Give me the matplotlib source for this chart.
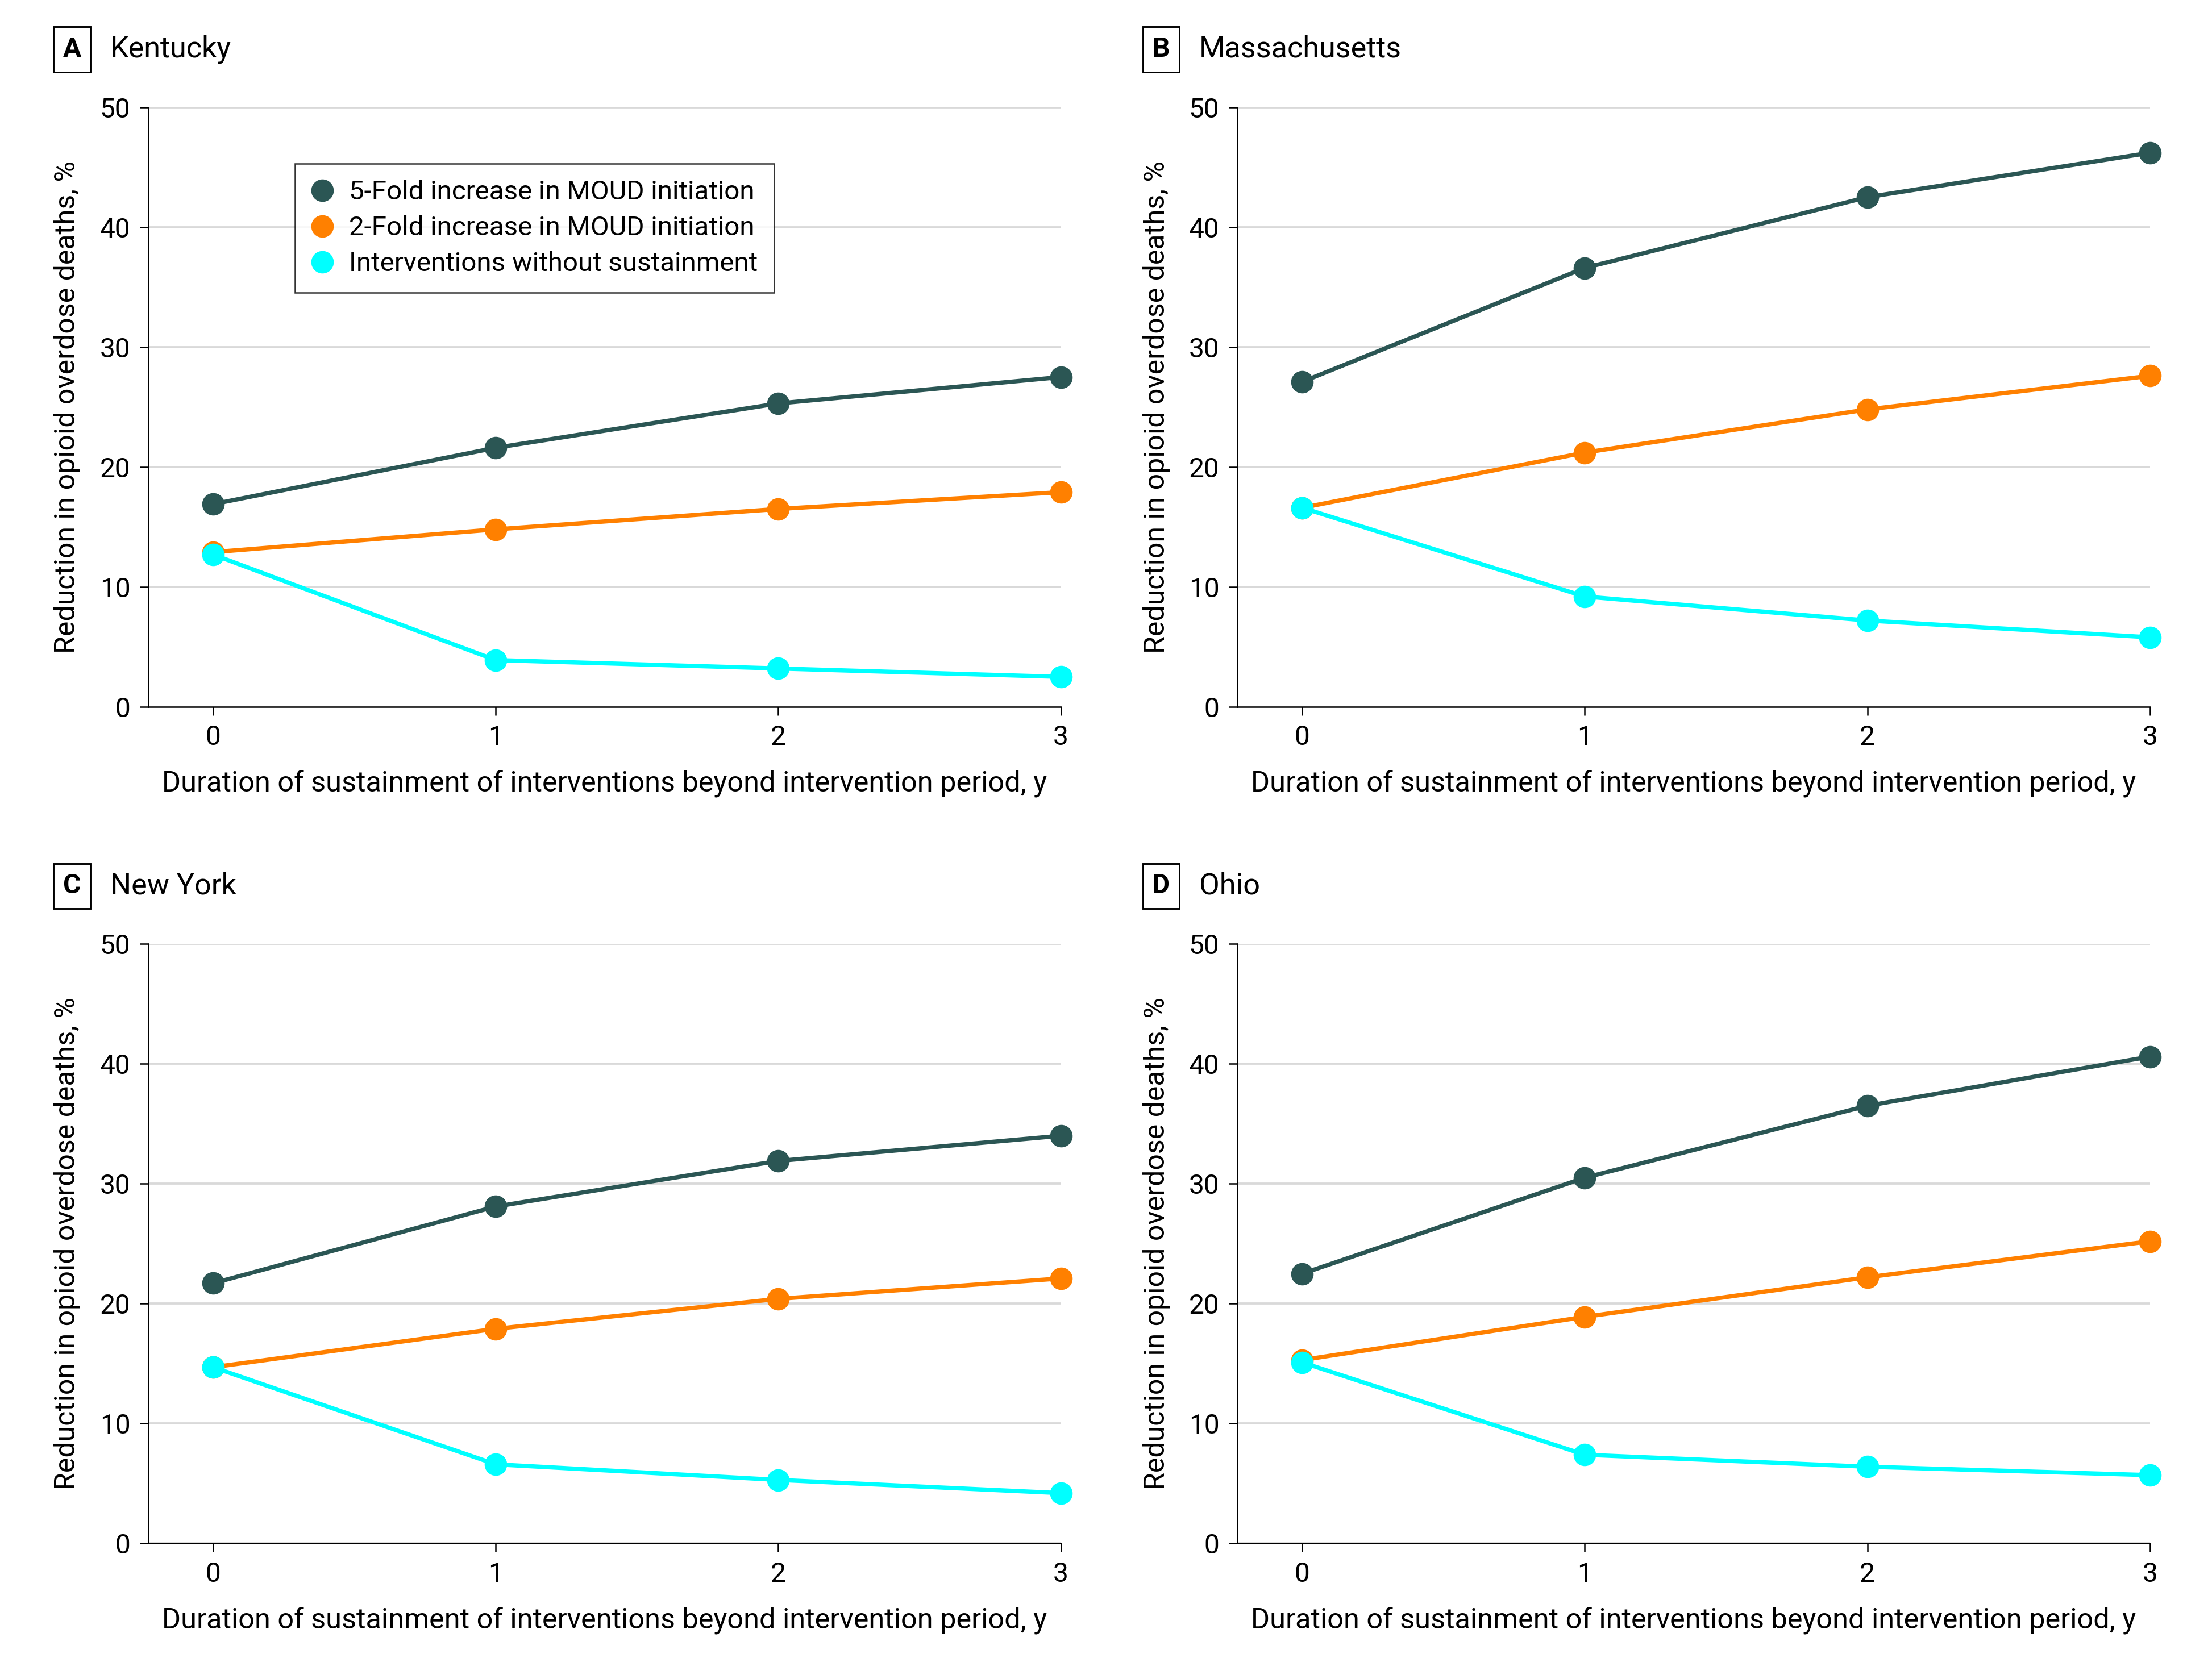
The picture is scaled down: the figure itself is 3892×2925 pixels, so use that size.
import matplotlib
matplotlib.use("Agg")
import matplotlib.pyplot as plt

years = [0, 1, 2, 3]
states = ["Kentucky", "Massachusetts", "New York", "Ohio"]
panel_letters = ["A", "B", "C", "D"]
series_names = ["5-Fold increase in MOUD initiation",
                "2-Fold increase in MOUD initiation",
                "Interventions without sustainment"]

kentucky_5fold = [16.9, 21.6, 25.3, 27.5]
kentucky_2fold = [12.9, 14.8, 16.5, 17.9]
kentucky_none = [12.7, 3.9, 3.2, 2.5]

massachusetts_5fold = [27.1, 36.6, 42.5, 46.2]
massachusetts_2fold = [16.6, 21.2, 24.8, 27.6]
massachusetts_none = [16.6, 9.2, 7.2, 5.8]

newyork_5fold = [21.7, 28.1, 31.9, 34.0]
newyork_2fold = [14.7, 17.9, 20.4, 22.1]
newyork_none = [14.7, 6.6, 5.3, 4.2]

ohio_5fold = [22.5, 30.5, 36.5, 40.6]
ohio_2fold = [15.3, 18.9, 22.2, 25.2]
ohio_none = [15.1, 7.4, 6.4, 5.7]

data = [
    (kentucky_5fold, kentucky_2fold, kentucky_none),
    (massachusetts_5fold, massachusetts_2fold, massachusetts_none),
    (newyork_5fold, newyork_2fold, newyork_none),
    (ohio_5fold, ohio_2fold, ohio_none),
]
colors = ["#2b5654", "#ff8000", "#00ffff"]

plt.rcParams["font.family"] = ["Roboto", "DejaVu Sans"]

W, H = 1568, 1178
fig = plt.figure(figsize=(3892 / 300, 2925 / 300), dpi=300)

positions = [
    (105, 752, 76, 501),
    (877, 1524, 76, 501),
    (105, 752, 669, 1094),
    (877, 1524, 669, 1094),
]
label_pos = [(51, 35), (823, 35), (51, 628), (823, 628)]

for i, (x0, x1, y0, y1) in enumerate(positions):
    ax = fig.add_axes([x0 / W, 1 - y1 / H, (x1 - x0) / W, (y1 - y0) / H])
    s5, s2, sn = data[i]
    for vals, c, name in zip((s5, s2, sn), colors, series_names):
        ax.plot(years, vals, color=c, lw=1.8, marker="o", markersize=8.5,
                label=name, zorder=3, clip_on=False)
    ax.set_xlim(-0.23, 3)
    ax.set_ylim(0, 50)
    ax.set_xticks(years)
    ax.set_yticks([0, 10, 20, 30, 40, 50])
    ax.grid(axis="y", color="#d9d9d9", lw=0.9, zorder=0)
    ax.set_axisbelow(True)
    for s in ["top", "right"]:
        ax.spines[s].set_visible(False)
    for s in ["left", "bottom"]:
        ax.spines[s].set_linewidth(0.6)
        ax.spines[s].set_color("black")
    ax.tick_params(axis="both", labelsize=11.5, length=3.5, width=0.6, pad=4)
    ax.set_xlabel("Duration of sustainment of interventions beyond intervention period, y",
                  fontsize=12.1, labelpad=8)
    ax.set_ylabel("Reduction in opioid overdose deaths, %", fontsize=12, labelpad=8)
    if i == 0:
        leg = ax.legend(loc="upper left", bbox_to_anchor=(0.161, 0.906), fontsize=11.4,
                        frameon=True, fancybox=False, edgecolor="black",
                        handlelength=0.8, handletextpad=0.6, borderpad=0.6,
                        labelspacing=0.4, borderaxespad=0)
        leg.get_frame().set_linewidth(0.6)
        for h in leg.get_lines():
            h.set_linestyle("none")
    lx, ly = label_pos[i]
    fig.text(lx / W, 1 - ly / H, panel_letters[i], fontsize=11.5, fontweight="bold",
             ha="center", va="center",
             bbox=dict(boxstyle="square,pad=0.35", fc="white", ec="black", lw=0.7))
    fig.text((lx + 27) / W, 1 - ly / H, states[i], fontsize=12.5, ha="left", va="center")

fig.savefig("out.png", dpi=300, facecolor="white")
